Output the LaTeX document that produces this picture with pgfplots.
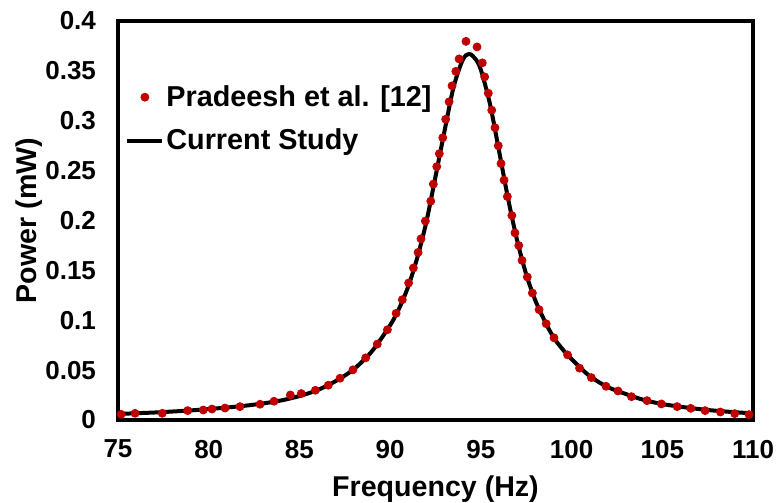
\documentclass[border=0pt]{standalone}
\usepackage{pgfplots}
\pgfplotsset{compat=1.18}
\usepackage{fontspec}
\setmainfont{Liberation Sans}
\definecolor{dotred}{RGB}{192,0,0}
\begin{document}
\begin{tikzpicture}
\begin{axis}[
  scale only axis,
  width=317.5pt, height=199.5pt,
  xmin=75, xmax=110, ymin=0, ymax=0.4,
  xtick={75,80,...,110},
  ytick={0,0.05,0.1,0.15,0.2,0.25,0.3,0.35,0.4},
  major tick length=0pt,
  axis line style={line width=1.6pt},
  /pgf/number format/assume math mode=true,
  /pgf/number format/fixed,
  /pgf/number format/precision=2,
  tick label style={font=\bfseries\fontsize{13}{13}\selectfont},
  yticklabel style={xshift=-7.5pt},
  xticklabel style={yshift=-6.5pt},
  xlabel={\bfseries Frequency (Hz)},
  ylabel={\bfseries Power (mW)},
  label style={font=\bfseries\fontsize{14.3}{14.3}\selectfont},
  xlabel style={at={(axis description cs:0.5,-0.172)}, anchor=center},
  ylabel style={at={(axis description cs:-0.140,0.5)}, anchor=center},
  legend style={draw=none, fill=none, at={(0.011,0.845)}, anchor=north west,
    font=\bfseries\fontsize{14.4}{14.4}\selectfont, row sep=8pt,
    inner sep=0pt, nodes={inner sep=1pt}},
  legend cell align=left,
  legend image code/.code={\draw[#1] (0pt,0pt) -- (17.5pt,0pt);},
]
\addlegendimage{only marks, mark=*, color=dotred, legend image code/.code={\draw[dotred,fill=dotred] (8.75pt,0pt) circle (2pt);}}
\addlegendentry{Pradeesh et al. [12]}
\addlegendimage{black, line width=2pt}
\addlegendentry{Current Study}

\addplot[black, line width=2pt, smooth, forget plot] coordinates {
(75,0.006) (76,0.0068) (77,0.0075) (78,0.0085) (79,0.0096) (80,0.011)
(81,0.0125) (82,0.0143) (83,0.0166) (84,0.0196) (85,0.024) (86,0.030)
(87,0.039) (88,0.051) (89,0.069) (90,0.095) (90.5,0.112) (91,0.134)
(91.5,0.163) (92,0.199) (92.5,0.244) (93,0.290) (93.5,0.334) (94,0.361)
(94.35,0.367) (94.7,0.362) (95,0.351) (95.5,0.317) (96,0.270) (96.5,0.222)
(97,0.180) (97.5,0.146) (98,0.120) (98.5,0.100) (99,0.083) (99.5,0.071)
(100,0.061) (101,0.044) (102,0.033) (103,0.026) (104,0.020) (105,0.016)
(106,0.0133) (107,0.011) (108,0.0092) (109,0.0078) (110,0.0066)
};

\addplot[only marks, mark=*, mark size=2pt, color=dotred, forget plot] coordinates {
(75.17,0.0057) (75.94,0.0067) (77.44,0.0067) (78.84,0.0094) (79.70,0.010)
(80.18,0.011) (80.90,0.012) (81.72,0.0134) (82.83,0.0158) (83.60,0.0188)
(84.50,0.0251) (85.10,0.0265) (85.88,0.0298) (86.59,0.0349) (87.24,0.0419)
(87.95,0.0503) (88.65,0.0623) (89.29,0.0761) (89.85,0.0905) (90.33,0.107)
(90.67,0.1206) (91.02,0.1374) (91.28,0.1524) (91.54,0.168) (91.70,0.1816)
(91.94,0.1995) (92.24,0.2194) (92.38,0.2365) (92.57,0.254) (92.71,0.267)
(92.90,0.283) (93.06,0.3015) (93.25,0.319) (93.41,0.335) (93.62,0.3495)
(93.80,0.362) (94.18,0.3796) (94.79,0.374) (95.08,0.358) (95.21,0.344)
(95.41,0.3276) (95.60,0.3106) (95.78,0.293) (95.96,0.275) (96.11,0.257)
(96.28,0.2405) (96.46,0.224) (96.71,0.205) (96.88,0.1876) (97.09,0.1749)
(97.27,0.160) (97.56,0.1434) (97.84,0.1273) (98.21,0.1106) (98.60,0.0965)
(99.03,0.0824) (99.78,0.0653) (100.44,0.052) (101.09,0.0425) (101.90,0.0338)
(102.56,0.0291) (103.30,0.0234) (104.16,0.0194) (104.95,0.0161) (105.82,0.0134)
(106.57,0.0117) (107.36,0.0094) (108.20,0.008) (108.99,0.0064) (109.78,0.0054)
};
\coordinate (sw) at (rel axis cs:0,0);
\coordinate (ne) at (rel axis cs:1,1);
\end{axis}
\pgfresetboundingbox
\path ([xshift=-59pt,yshift=-41.5pt]sw) rectangle ([xshift=11.5pt,yshift=10.5pt]ne);
\end{tikzpicture}
\end{document}
